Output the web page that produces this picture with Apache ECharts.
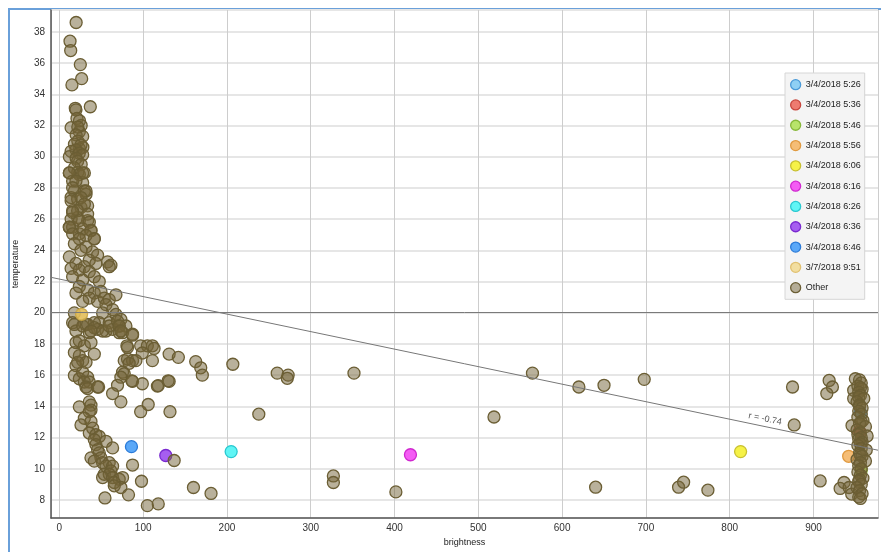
<!DOCTYPE html>
<html>
<head>
<meta charset="utf-8">
<script src="https://cdn.jsdelivr.net/npm/echarts@6/dist/echarts.min.js"></script>
<style>
  html, body { margin: 0; padding: 0; background: #fff; overflow: hidden; width: 881px; height: 552px; }
  #frame { position: absolute; left: 8px; top: 8px; width: 871px; height: 542px;
           border-left: 2px solid #6aa0da; border-top: 2px solid #6aa0da; }
  #chart { position: absolute; left: 0; top: 0; width: 881px; height: 552px; }
</style>
</head>
<body>
<div id="frame"></div>
<div id="chart"></div>
<script>
// ---- series names (legend order) ----
const seriesNames = [
  '3/4/2018 5:26', '3/4/2018 5:36', '3/4/2018 5:46', '3/4/2018 5:56',
  '3/4/2018 6:06', '3/4/2018 6:16', '3/4/2018 6:26', '3/4/2018 6:36',
  '3/4/2018 6:46', '3/7/2018 9:51', 'Other'
];

// ---- highlighted readings [brightness, temperature] ----
const pts0526 = [[956, 13.6]];
const pts0536 = [[955, 12.4]];
const pts0546 = [[957, 9.9]];
const pts0556 = [[942, 10.8]];
const pts0606 = [[813, 11.1]];
const pts0616 = [[419, 10.9]];
const pts0626 = [[205, 11.1]];
const pts0636 = [[127, 10.85]];
const pts0646 = [[86, 11.42]];
const pts0951 = [[26.5, 19.9]];

// ---- all other readings: low-brightness column ----
const otherLeftUpper = [
  [20,38.6],[12.7,37.4],[13.5,36.8],[25,35.9],[26.6,35.0],[15,34.6],[36.9,33.2],
  [19,33.1],[19.8,33.0],[21,32.45],[14,31.86],[26,32.0],[23.8,31.6],[27.8,31.3],
  [24,32.3],[22,31.9],[20,31.4],[22,31.0],[18,30.8],[28,30.6],[24,30.5],
  [25.8,30.75],[19.8,30.44],[14,30.34],[23.8,30.23],[27.8,30.12],[11.9,30.0],[20,29.9],
  [21.8,29.7],[26,29.5],[17.9,29.28],[22,29.0],[23.8,28.86],[29.8,28.96],[11.9,28.96],
  [27.8,28.33],[15.8,28.44],[29.8,27.8],[17.9,27.8],[31.8,27.59],[14,27.38],[21.8,27.27],
  [25.8,26.75],[33.7,26.85],[15.8,26.54],[21.8,26.11],[14,26.0],[33.7,25.9],
  [37.7,25.27],[41.7,24.74],[23.8,25.06],[15.8,25.48],[11.9,25.48]
];
const otherLeftMiddle = [
  [11.9,28.96],[27.8,28.96],[19.8,28.44],[15.8,28.01],[31.8,27.8],[25.8,27.38],[14,27.17],
  [29.8,26.96],[21.8,26.54],[15.8,26.43],[33.7,26.32],[23.8,25.9],[11.9,25.48],[35.7,25.8],
  [27.8,25.37],[37.7,25.27],[15.8,25.06],[31.8,24.95],[23.8,24.74],[41.7,24.74],[17.9,24.42],
  [31.8,24.21],[25.8,24.0],[11.9,23.58],[39.6,23.9],[45.6,23.69],[35.7,23.37],[19.8,23.16],
  [29.8,22.95],[14,22.84],[43.6,23.16],[23.8,22.74],[35.7,22.63],[15.8,22.31],[27.8,22.1],
  [41.7,22.31],[47.6,22.0],[23.8,21.68],[33.7,21.47],[41.7,21.26],[49.6,21.36],[19.8,21.26],
  [35.7,20.94],[27.8,20.73],[45.6,20.73],[53.6,20.94],[67.5,21.15],[59.5,20.84],[55.6,20.52],
  [63.5,20.2],[51.6,19.99],[67.5,19.89],[73.4,19.57],[47.6,19.36],[59.5,19.36],[71.4,19.15],
  [79.4,19.15],[41.7,19.36],[17.9,19.99],[15.8,19.36],[31.8,19.25],[45.6,18.94],[55.6,18.83],
  [63.5,18.94],[71.4,18.72],[87.3,18.62],[35.7,18.72],[19.8,18.83],
  [57.5,23.26],[61.5,23.05],[59.5,22.95]
];
const otherLeftLower = [
  [17.9,15.98],[23.8,15.77],[27.8,16.19],[19.8,16.61],[33.7,15.87],[29.8,15.56],[35.7,15.56],
  [31.8,15.24],[33.7,15.14],[45.6,15.24],[46.8,15.24],
  [17.9,17.45],[23.8,17.25],[27.8,16.93],[31.8,16.82],[21.8,16.82],
  [19.8,18.09],[23.8,18.2],[29.8,17.88],[37.7,18.09],[41.7,17.35],
  [17.9,19.25],[27.8,19.15],[33.7,19.25],[41.7,19.04],[51.6,18.83],[37.7,18.83],
  [59.5,19.15],[69.4,19.46],[71.4,19.15],[75.4,18.72],[73.4,18.83],[87.3,18.56],
  [97,17.88],[105,17.88],[111,17.88],[113,17.71],[99,17.42],[80.6,17.88],[81.3,17.77],
  [131,17.35],[142,17.14],[111,16.93],
  [77.4,16.93],[81.3,17.04],[87.3,16.93],[91.3,16.93],[83.3,16.76],
  [75.4,16.19],[77.4,16.09],[73.4,15.87],
  [87.3,15.6],[99,15.45],[117,15.3],[131,15.6],[86.5,15.64],[118,15.33],[129.8,15.64],
  [69.4,15.35],[63.5,14.82],[73.4,14.29],
  [23.8,13.97],[35.7,14.29],[37.7,14.08],[37.7,13.76],[35.7,13.66],
  [97,13.66],[106,14.12],[132,13.66],
  [29.8,13.24],[25.8,12.81],[37.7,13.03],[39.7,12.6],[35.7,12.29],[43.6,12.18],[47.6,12.07],[41.7,11.86],
  [43.6,11.55],[55.6,11.76],[63.5,11.34],[45.6,11.23],[47.6,11.02],[49.6,10.7],[37.7,10.7],[41.7,10.49],
  [51.6,10.39],[59.5,10.39],[55.6,10.17],[63.5,10.17],[61.5,9.86],[53.6,9.65],[59.5,9.65],
  [51.6,9.44],[63.5,9.44],[71.4,9.33],[75.4,9.44],[65.5,9.12],[73.4,8.8],[65.5,8.91],
  [82.5,8.33],[54.4,8.13],[87.3,10.24],[98,9.2],[105,7.64],[118,7.75]
];
// ---- all other readings: mid brightness ----
const otherMiddle = [
  [207,16.7],[260,16.13],[273,16.0],[272,15.8],[351.6,16.13],[238,13.5],
  [162.7,16.87],[168.7,16.47],[170.6,16.0],[137,10.53],[160,8.8],[181,8.42],
  [327,9.54],[327,9.12],[401.6,8.52],
  [564.6,16.13],[620,15.24],[650,15.35],[698,15.73],[518.7,13.32],
  [640,8.82],[739,8.82],[745,9.14],[774,8.63]
];
// ---- all other readings: high-brightness column ----
const otherRight = [
  [875,15.24],[918.7,15.66],[922.6,15.24],[915.9,14.82],[877,12.81],[908,9.22],
  [936.5,9.12],[931.8,8.74],[942.5,8.8],[945.6,8.38],[946,12.77],[948,15.03],[948,14.5],[950,15.77],
  [955,15.7],[957,15.5],[953,15.3],[958,15.1],[956,15.2],[954,14.9],[956,14.7],[954,14.6],
  [960,14.5],[952,14.3],[955,14.1],[955,14.0],[958,13.9],[954,13.7],[957,13.5],[953,13.3],
  [959,13.1],[957,13.0],[955,12.9],[962,12.7],[952,12.5],[956,12.3],[953,12.2],[964,12.1],
  [957,12.0],[954,11.9],[958,11.7],[956,11.6],[953,11.5],[957,11.3],[963,11.2],[955,11.0],
  [956,10.9],[958,10.8],[952,10.6],[962,10.5],[956,10.4],[954,10.2],[957,10.0],[953,9.8],
  [956,9.6],[959,9.4],[955,9.3],[954,9.2],[957,9.0],[952,8.8],[955,8.6],[958,8.4],
  [954,8.2],[956,8.1]
];

// ---- trend line and reference level ----
const trendX = [-10, 977];
const trendY = [22.27, 11.19];
const trendLabel = 'r = -0.74';
const refLevel = 20;

// ---- axis extents ----
const xRange = [-10, 977];
const yRange = [6.84, 39.4];

const highlightData = [pts0526, pts0536, pts0546, pts0556, pts0606, pts0616,
                       pts0626, pts0636, pts0646, pts0951];
const otherData = [].concat(otherLeftUpper, otherLeftMiddle, otherLeftLower, otherMiddle, otherRight);

const fills = ['#8fd0f4', '#ee7b70', '#b8e46a', '#f5bd76', '#f6f247', '#f45cf4',
               '#5ff5f5', '#a65ef0', '#5aa8f8', '#f2dea0', 'rgba(115,100,55,0.5)'];
const borders = ['#4a9ad8', '#c8463c', '#88b83a', '#e09a40', '#c8c030', '#d028d0',
                 '#28c8d0', '#7a2ad0', '#2a7ad8', '#e0c070', '#6b5e34'];
// the 3/7 reading sits inside the dense column and is drawn above it, tinted
const pointStyleOverride = { '3/7/2018 9:51': { color: 'rgba(226,190,90,0.9)', borderColor: 'rgba(200,165,70,0.9)' } };
const raisedSeries = { '3/7/2018 9:51': 3 };

const FONT = '"Liberation Sans", Arial, sans-serif';

const series = seriesNames.map((name, i) => {
  const base = { color: fills[i], borderColor: borders[i], borderWidth: 1.3, opacity: 1 };
  const s = {
    name: name,
    type: 'scatter',
    data: i < highlightData.length ? highlightData[i] : otherData,
    symbol: 'circle',
    symbolSize: 12,
    z: raisedSeries[name] || 2,
    itemStyle: Object.assign(base, pointStyleOverride[name] || {}),
    emphasis: { disabled: true },
    animation: false
  };
  if (name === 'Other') {
    s.markLine = {
      silent: true,
      symbol: ['none', 'none'],
      animation: false,
      data: [
        {
          yAxis: refLevel,
          lineStyle: { color: '#7a7a7a', width: 1, type: 'solid' },
          label: { show: false }
        },
        [
          { coord: [trendX[0], trendY[0]] },
          {
            coord: [trendX[1], trendY[1]],
            lineStyle: { color: '#777', width: 1, type: 'solid' },
            label: {
              show: true, formatter: trendLabel, position: 'insideEndTop',
              distance: [100, 3], color: '#555', fontSize: 9, fontFamily: FONT
            }
          }
        ]
      ]
    };
  }
  return s;
});

// legend swatches always use the plain series colours
const legendData = seriesNames.map((name, i) => ({
  name: name,
  itemStyle: { color: fills[i], borderColor: borders[i], borderWidth: 1.3 }
}));

const chart = echarts.init(document.getElementById('chart'), null, { renderer: 'canvas' });
chart.setOption({
  animation: false,
  textStyle: { fontFamily: FONT },
  grid: { left: 51, top: 10, right: 0, bottom: 28, containLabel: false },
  legend: {
    orient: 'vertical',
    left: 785, top: 73,
    padding: [6, 4, 6, 5],
    itemGap: 9, itemWidth: 10, itemHeight: 10,
    icon: 'circle',
    backgroundColor: '#f4f4f4', borderColor: '#d6d6d6', borderWidth: 1,
    textStyle: { fontSize: 9, color: '#222', fontFamily: FONT },
    selectedMode: false,
    data: legendData
  },
  xAxis: {
    type: 'value', min: xRange[0], max: xRange[1], splitNumber: 10,
    name: 'brightness', nameLocation: 'middle', nameGap: 17,
    nameTextStyle: { fontSize: 9, color: '#222', fontFamily: FONT },
    axisLine: { show: true, onZero: false, lineStyle: { color: '#555', width: 1.5 } },
    axisTick: { show: false },
    axisLabel: {
      fontSize: 10, color: '#333', margin: 5, fontFamily: FONT,
      formatter: v => (Math.abs(v % 100) < 1e-6 ? String(Math.round(v)) : '')
    },
    splitLine: { show: true, lineStyle: { color: '#cdcdcd', width: 1 } }
  },
  yAxis: {
    type: 'value', min: yRange[0], max: yRange[1], splitNumber: 16,
    name: 'temperature', nameLocation: 'middle', nameGap: 31,
    nameTextStyle: { fontSize: 9, color: '#222', fontFamily: FONT },
    axisLine: { show: true, onZero: false, lineStyle: { color: '#555', width: 1.5 } },
    axisTick: { show: false },
    axisLabel: {
      fontSize: 10, color: '#333', margin: 6, fontFamily: FONT,
      formatter: v => (Math.abs(v - Math.round(v)) < 1e-6 && Math.round(v) % 2 === 0 ? String(Math.round(v)) : '')
    },
    splitLine: { show: true, lineStyle: { color: '#e6e6e6', width: 2 } }
  },
  series: series
});
</script>
</body>
</html>
